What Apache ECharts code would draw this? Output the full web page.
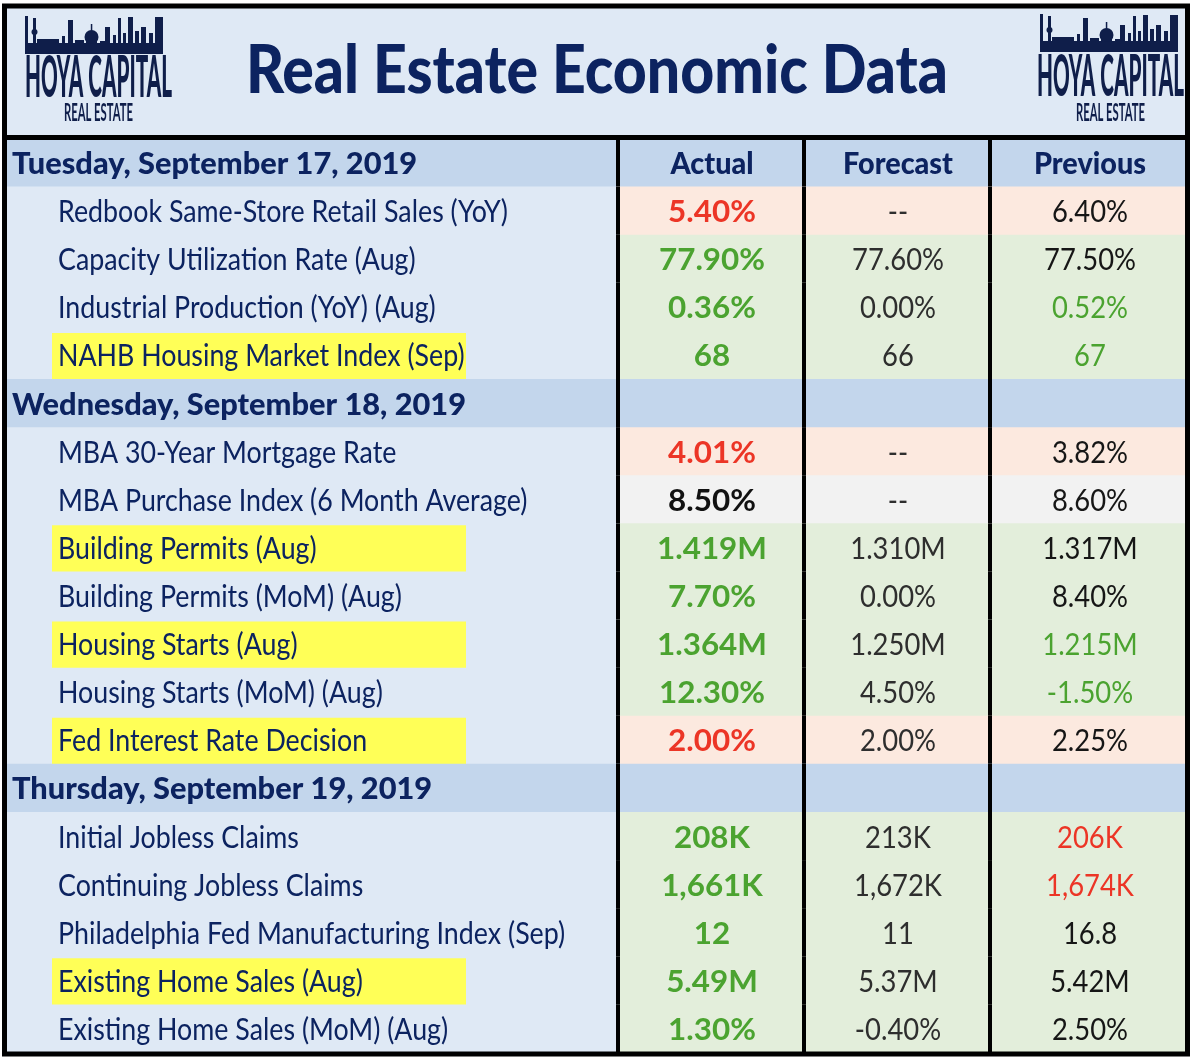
<!DOCTYPE html>
<html><head><meta charset="utf-8">
<script src="https://cdn.jsdelivr.net/npm/echarts@6/dist/echarts.min.js"></script>
<style>html,body{margin:0;padding:0;background:#fff}#c{width:1194px;height:1064px}</style>
</head><body><div id="c"></div>
<script>
// ---------------- data ----------------
const title = 'Real Estate Economic Data';
const logoName = 'HOYA CAPITAL';
const logoSub = 'REAL ESTATE';
const columnHeaders = ['Actual', 'Forecast', 'Previous'];
const days = ['Tuesday, September 17, 2019', 'Wednesday, September 18, 2019', 'Thursday, September 19, 2019'];
const indicators = [
  'Redbook Same-Store Retail Sales (YoY)',
  'Capacity Utilization Rate (Aug)',
  'Industrial Production (YoY) (Aug)',
  'NAHB Housing Market Index (Sep)',
  'MBA 30-Year Mortgage Rate',
  'MBA Purchase Index (6 Month Average)',
  'Building Permits (Aug)',
  'Building Permits (MoM) (Aug)',
  'Housing Starts (Aug)',
  'Housing Starts (MoM) (Aug)',
  'Fed Interest Rate Decision',
  'Initial Jobless Claims',
  'Continuing Jobless Claims',
  'Philadelphia Fed Manufacturing Index (Sep)',
  'Existing Home Sales (Aug)',
  'Existing Home Sales (MoM) (Aug)'
];
const indicatorDay = [0, 0, 0, 0, 1, 1, 1, 1, 1, 1, 1, 2, 2, 2, 2, 2];
const actual = ['5.40%', '77.90%', '0.36%', '68', '4.01%', '8.50%', '1.419M', '7.70%', '1.364M', '12.30%', '2.00%', '208K', '1,661K', '12', '5.49M', '1.30%'];
const forecast = ['--', '77.60%', '0.00%', '66', '--', '--', '1.310M', '0.00%', '1.250M', '4.50%', '2.00%', '213K', '1,672K', '11', '5.37M', '-0.40%'];
const previous = ['6.40%', '77.50%', '0.52%', '67', '3.82%', '8.60%', '1.317M', '8.40%', '1.215M', '-1.50%', '2.25%', '206K', '1,674K', '16.8', '5.42M', '2.50%'];
const actualTone = ['down', 'up', 'up', 'up', 'down', 'flat', 'up', 'up', 'up', 'up', 'down', 'up', 'up', 'up', 'up', 'up'];
const previousTone = ['', '', 'up', 'up', '', '', '', '', 'up', 'up', '', 'down', 'down', '', '', ''];
const highlighted = [false, false, false, true, false, false, true, false, true, false, true, false, false, false, true, false];

// ---------------- style / layout ----------------
const FONT = 'Lato, "Open Sans", sans-serif';
const NAVY = '#0c2360';
const LOGO = '#0f1e4a';
const GREEN = '#4ba330';
const RED = '#ec3526';
const LABEL_BG = '#dfe9f5';
const DAY_BG = '#c3d6ec';
const YELLOW = '#ffff57';
const TONE_BG = { up: '#e3eedb', down: '#fce9df', flat: '#f2f2f2' };
const TONE_FG = { up: GREEN, down: RED, flat: '#111111', '': '#161616' };
const EDGES = [0, 614, 800, 986, 1184];   // column edges in x-axis units

const mctx = document.createElement('canvas').getContext('2d');
function tw(str, size, weight) { mctx.font = weight + ' ' + size + 'px ' + FONT; return mctx.measureText(str).width; }
const FS = 31;
const S = {
  label: 450 / tw('Redbook Same-Store Retail Sales (YoY)', FS, 'normal'),
  day: 454 / tw('Wednesday, September 18, 2019', FS, '900'),
  actual: 106 / tw('77.90%', FS, 'bold'),
  value: 92 / tw('77.60%', FS, 'normal'),
  head: 110 / tw('Forecast', FS, '900'),
  title: 702 / tw(title, 66, '900'),
  logo: 147 / tw(logoName, 57, '900'),
  logoSub: 69 / tw(logoSub, 25, 'bold')
};

// rows of the table
const rows = [];
days.forEach((d, di) => {
  rows.push({ kind: 'day', label: d, di });
  indicators.forEach((name, i) => { if (indicatorDay[i] === di) rows.push({ kind: 'item', i }); });
});
const cells = [];
rows.forEach((r, ri) => { for (let c = 0; c < 4; c++) cells.push([c, ri]); });

function txt(x, y, text, size, weight, color, scale, align) {
  return { type: 'text', x, y, scaleX: scale, scaleY: 1,
    style: { x: 0, y: 0, text, fill: color, align: align, verticalAlign: 'middle',
      font: weight + ' ' + size + 'px ' + FONT } };
}

const TY = 1; // text vertical nudge
function renderItem(params, api) {
  const c = api.value(0), r = api.value(1);
  const row = rows[r];
  const xa = api.coord([EDGES[c], r])[0];
  const xb = api.coord([EDGES[c + 1], r])[0];
  const yc = api.coord([0, r])[1];
  const h = api.size([0, 1])[1];
  const top = yc - h / 2;
  const ch = [];
  let fill;
  if (row.kind === 'day') fill = DAY_BG;
  else if (c === 0) fill = LABEL_BG;
  else fill = TONE_BG[actualTone[row.i]];
  ch.push({ type: 'rect', shape: { x: xa, y: top - 0.5, width: xb - xa, height: h + 1 }, style: { fill } });
  if (c === 0 && row.kind === 'item' && highlighted[row.i]) {
    ch.push({ type: 'rect', shape: { x: xa + 48, y: top + 1.5, width: 414, height: h - 1.5 }, style: { fill: YELLOW } });
  }
  if (c > 0) ch.push({ type: 'rect', shape: { x: xa - 2, y: top - 0.5, width: 4, height: h + 1 }, style: { fill: '#000' } });
  const cx = (xa + xb) / 2 + (c > 0 ? 1 : 0);
  const y = yc + TY;
  if (row.kind === 'day') {
    if (c === 0) ch.push(txt(xa + 8, y, row.label, FS, '900', NAVY, S.day, 'left'));
    else if (row.di === 0) ch.push(txt(cx, y, columnHeaders[c - 1], FS, '900', NAVY, S.head, 'center'));
  } else {
    const i = row.i;
    if (c === 0) ch.push(txt(xa + 54, y, indicators[i], FS, 'normal', NAVY, S.label, 'left'));
    else if (c === 1) ch.push(txt(cx, y, actual[i], FS, 'bold', TONE_FG[actualTone[i]], S.actual, 'center'));
    else if (c === 2) ch.push(txt(cx, y, forecast[i], FS, 'normal', '#2e2e2e', S.value, 'center'));
    else ch.push(txt(cx, y, previous[i], FS, 'normal', TONE_FG[previousTone[i]], S.value, 'center'));
  }
  return { type: 'group', children: ch };
}

// logo skyline pieces: [x, width, height] relative to skyline left, on baseline
const towers = [[0, 3, 38], [8, 3, 36], [12, 22, 15], [37, 3, 18], [43, 5, 34], [50, 9, 14], [61, 11, 17], [75, 5, 13], [80, 5, 27], [88, 3, 19], [93, 3, 36], [98, 3, 21], [103, 5, 37], [110, 4, 23], [116, 5, 27], [124, 4, 21], [130, 8, 37]];
function logo(x0, base, textCx, nameY, subY) {
  const els = [{ type: 'rect', shape: { x: x0, y: base - 11, width: 138, height: 11 }, style: { fill: LOGO } }];
  towers.forEach(t => els.push({ type: 'rect', shape: { x: x0 + t[0], y: base - t[2], width: t[1], height: t[2] }, style: { fill: LOGO } }));
  els.push({ type: 'circle', shape: { cx: x0 + 66.5, cy: base - 17, r: 7 }, style: { fill: LOGO } });
  els.push({ type: 'rect', shape: { x: x0 + 65.8, y: base - 30, width: 1.5, height: 8 }, style: { fill: LOGO } });
  els.push({ type: 'circle', shape: { cx: x0 + 9.5, cy: base - 22, r: 3 }, style: { fill: LOGO } });
  els.push(txt(textCx, nameY, logoName, 57, '900', LOGO, S.logo, 'center'));
  els.push(txt(textCx, subY, logoSub, 25, 'bold', LOGO, S.logoSub, 'center'));
  return els;
}

const chart = echarts.init(document.getElementById('c'), null, { renderer: 'canvas' });
chart.setOption({
  animation: false,
  backgroundColor: '#ffffff',
  grid: { left: 4, top: 139, width: 1184, height: 914, containLabel: false },
  xAxis: { type: 'value', min: 0, max: 1184, show: false },
  yAxis: { type: 'category', data: rows.map((r, k) => k), inverse: true, show: false },
  series: [{ type: 'custom', renderItem, data: cells, clip: false, silent: true }],
  graphic: [
    { type: 'rect', z: 0, shape: { x: 4, y: 4, width: 1184, height: 135 }, style: { fill: LABEL_BG } },
    Object.assign(txt(597, 72, title, 66, '900', NAVY, S.title, 'center'), { z: 5 }),
    { type: 'group', z: 5, children: logo(25, 54, 98.5, 79, 113) },
    { type: 'group', z: 5, children: logo(1040, 52, 1110.5, 78, 113) },
    { type: 'rect', z: 100, shape: { x: 4, y: 135, width: 1184, height: 5 }, style: { fill: '#000' } },
    { type: 'rect', z: 100, shape: { x: 4.5, y: 6, width: 1183, height: 1048 }, style: { fill: null, stroke: '#000', lineWidth: 5 } }
  ]
});
</script>
</body></html>
